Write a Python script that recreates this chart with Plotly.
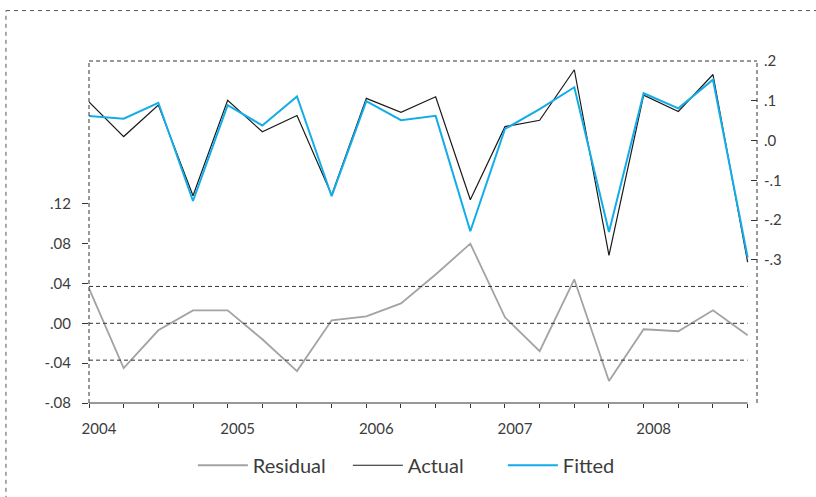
import plotly.graph_objects as go

# Quarterly sample 2004Q1 - 2008Q4
periods = [f"{y}Q{q}" for y in range(2004, 2009) for q in range(1, 5)]

actual = [0.097, 0.010, 0.089, -0.139, 0.101, 0.022, 0.063, -0.137,
          0.106, 0.071, 0.110, -0.149, 0.035, 0.051, 0.178, -0.289,
          0.114, 0.073, 0.166, -0.306]
fitted = [0.062, 0.055, 0.095, -0.152, 0.089, 0.038, 0.111, -0.140,
          0.099, 0.051, 0.062, -0.228, 0.029, 0.079, 0.134, -0.230,
          0.119, 0.081, 0.153, -0.294]
residual = [0.035, -0.045, -0.007, 0.013, 0.013, -0.016, -0.048, 0.003,
            0.007, 0.020, 0.049, 0.080, 0.006, -0.028, 0.044, -0.058,
            -0.006, -0.008, 0.013, -0.012]

# standard error band drawn around the residuals
resid_se = 0.037

left_ticks = [-0.08, -0.04, 0.00, 0.04, 0.08, 0.12]
left_labels = ["-.08", "-.04", ".00", ".04", ".08", ".12"]
right_ticks = [-0.3, -0.2, -0.1, 0.0, 0.1, 0.2]
right_labels = ["-.3", "-.2", "-.1", ".0", ".1", ".2"]

# numeric time position: year + (quarter-1)/4
xpos = [int(p[:4]) + (int(p[-1]) - 1) / 4 for p in periods]
xticktext = [p[:4] if p.endswith("Q1") else "" for p in periods]

FONT = "Lato"
TXT = "#3c3c3c"
AX = "#333333"
DASH = "4px,3px"

fig = go.Figure()
fig.add_trace(go.Scatter(x=xpos, y=residual, name="Residual", mode="lines",
                         line=dict(color="#a3a3a3", width=1.8), yaxis="y"))
fig.add_trace(go.Scatter(x=xpos, y=actual, name="Actual", mode="lines",
                         line=dict(color="#1a1a1a", width=1.2), yaxis="y2"))
fig.add_trace(go.Scatter(x=xpos, y=fitted, name="Fitted", mode="lines",
                         line=dict(color="#12ade8", width=2), yaxis="y2"))

shapes = []
# residual reference lines at 0 and +/- one standard error
for v in (resid_se, 0.0, -resid_se):
    shapes.append(dict(type="line", xref="x", yref="y", x0=xpos[0], x1=xpos[-1],
                       y0=v, y1=v, line=dict(color=AX, width=1, dash=DASH)))
# bottom axis line
shapes.append(dict(type="line", xref="x", yref="paper", x0=xpos[0], x1=xpos[-1],
                   y0=0, y1=0, line=dict(color=AX, width=1)))
# dashed frame: left, top, right
shapes.append(dict(type="line", xref="paper", yref="paper", x0=0, x1=0, y0=0, y1=1,
                   line=dict(color=AX, width=1, dash=DASH)))
shapes.append(dict(type="line", xref="paper", yref="paper", x0=0, x1=1, y0=1, y1=1,
                   line=dict(color=AX, width=1, dash=DASH)))
shapes.append(dict(type="line", xref="paper", yref="paper", x0=1, x1=1, y0=0, y1=1,
                   line=dict(color=AX, width=1, dash=DASH)))
# outer page frame
shapes.append(dict(type="line", xref="paper", yref="paper", x0=-0.1243, x1=-0.1243,
                   y0=-0.4, y1=1.1474, line=dict(color="#555555", width=1, dash="4px,4px")))
shapes.append(dict(type="line", xref="paper", yref="paper", x0=-0.1243, x1=1.2,
                   y0=1.1474, y1=1.1474, line=dict(color="#555555", width=1, dash="4px,4px")))

fig.update_layout(
    width=816, height=497,
    margin=dict(l=89, r=59, t=61, b=90),
    paper_bgcolor="white", plot_bgcolor="white",
    font=dict(family=FONT, color=TXT, size=15),
    showlegend=True,
    legend=dict(orientation="h", x=0.1555, xanchor="left", y=-0.182, yanchor="middle",
                font=dict(family=FONT, size=20, color=TXT),
                itemwidth=50, entrywidth=90, entrywidthmode="pixels",
                bgcolor="rgba(0,0,0,0)"),
    xaxis=dict(range=[2004, 2004 + 19.27 / 4], tickvals=xpos, ticktext=xticktext,
               ticks="outside", ticklen=4, tickcolor=AX, tickwidth=1,
               ticklabelshift=10, ticklabelstandoff=8,
               showline=False, showgrid=False, zeroline=False,
               tickfont=dict(family=FONT, size=15, color=TXT)),
    yaxis=dict(range=[-0.08, 0.2633], tickvals=left_ticks, ticktext=left_labels,
               ticks="outside", ticklen=6, tickcolor=AX, tickwidth=1,
               ticklabelstandoff=8,
               showline=False, showgrid=False, zeroline=False,
               tickfont=dict(family=FONT, size=15, color=TXT)),
    yaxis2=dict(range=[-0.66, 0.2], tickvals=right_ticks, ticktext=right_labels,
                overlaying="y", side="right", anchor="x",
                ticks="inside", ticklen=6, tickcolor=AX, tickwidth=1,
                ticklabelstandoff=6,
                showline=False, showgrid=False, zeroline=False,
                tickfont=dict(family=FONT, size=15, color=TXT)),
    shapes=shapes,
)

fig.write_html("out.html")
